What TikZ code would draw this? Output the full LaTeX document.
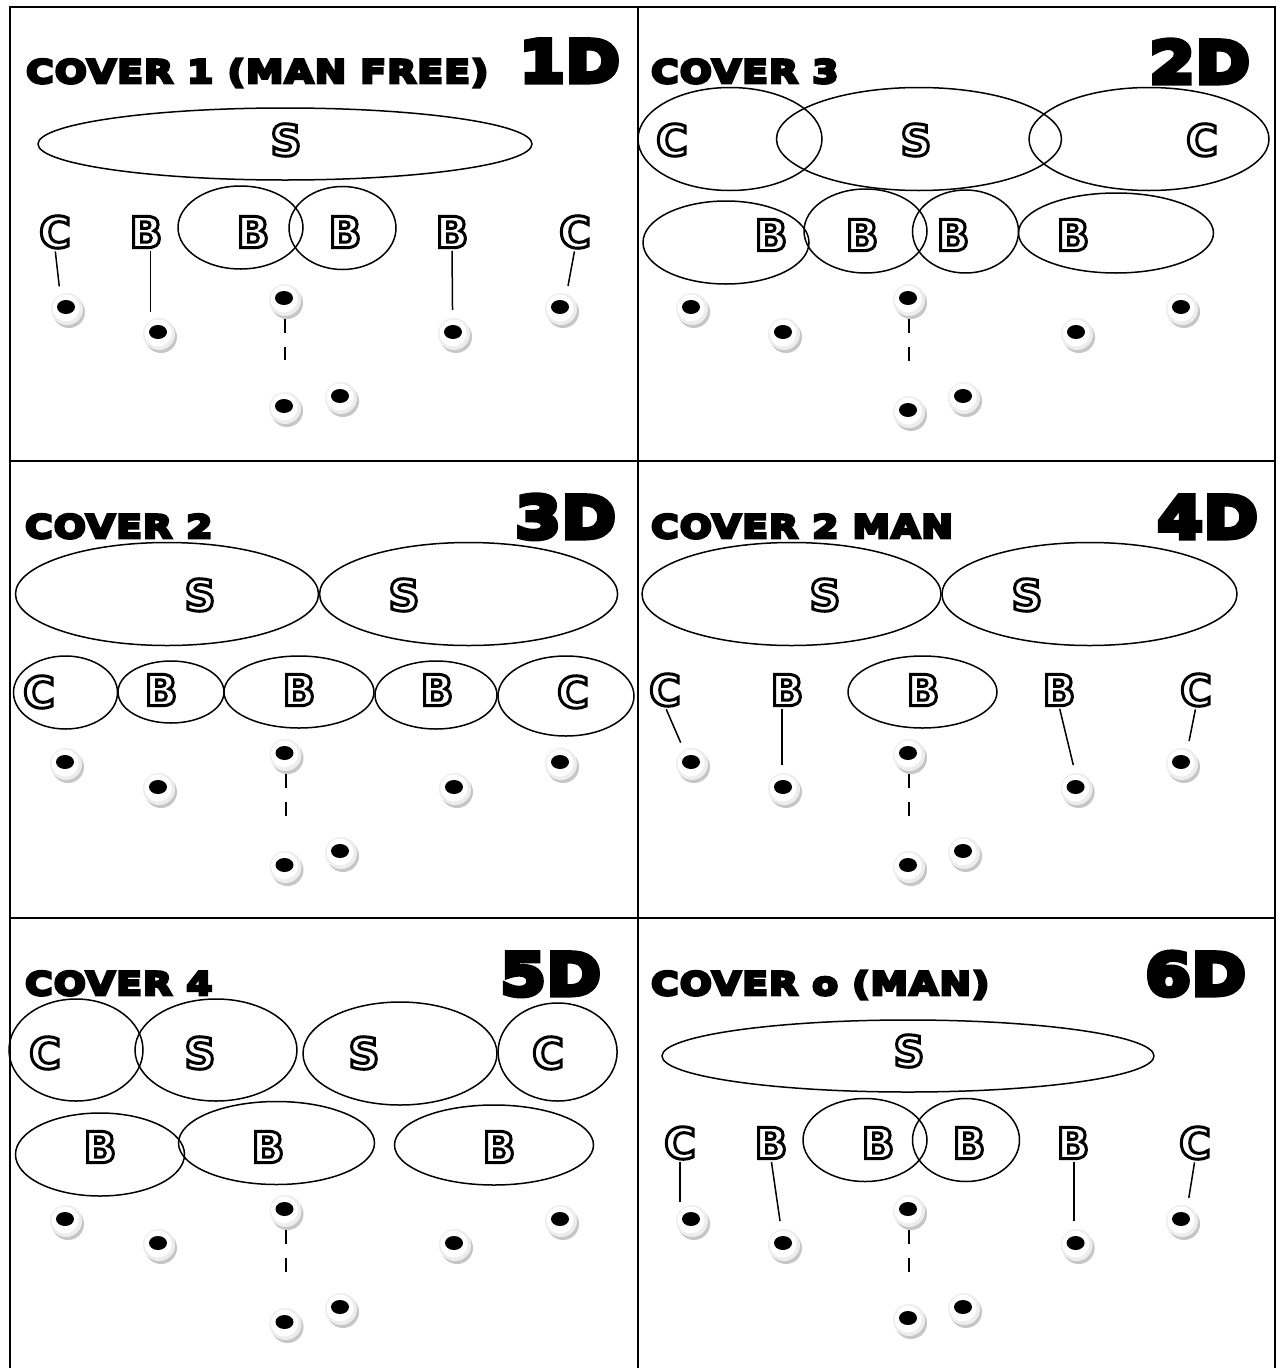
\documentclass[tikz,border=0pt]{standalone}
\usepackage{fontspec}
\usetikzlibrary{shapes.geometric,shadows}
\newfontfamily\titlefont{DejaVu Sans Bold}[FakeStretch=1.17,FakeBold=9,LetterSpace=4]
\newfontfamily\bigfont{DejaVu Sans Bold}[FakeStretch=1.12,FakeBold=9,LetterSpace=2]
\newfontfamily\letterfont{DejaVu Sans Bold}[FakeBold=7]
\newcommand\outl[1]{{\color{white}\special{pdf:literal direct 0 0 0 RG}#1}}
\tikzset{
  frame/.style={line width=2.5pt},
  zone/.style={ellipse, draw, line width=1.5pt, inner sep=0pt},
  lab/.style={inner sep=0pt, font=\letterfont\fontsize{43}{43}\selectfont},
  conn/.style={line width=1.5pt, shorten <=3pt, shorten >=8pt},
  qbline/.style={line width=2pt, dash pattern=on 14pt off 14pt, shorten <=3pt, shorten >=32pt},
  token/.style={circle, minimum size=32pt, inner sep=0pt, fill=gray!14,
    drop shadow={shadow xshift=2pt, shadow yshift=-3pt, fill=gray!45, opacity=1},
    path picture={\fill[white] ([xshift=-1pt,yshift=1pt]path picture bounding box.center) circle [radius=13.5pt];
      \fill[black] ([xshift=-1pt,yshift=2pt]path picture bounding box.center) ellipse [x radius=9pt, y radius=7pt];}},
  title/.style={anchor=base west, inner sep=0pt, font=\titlefont\fontsize{32}{36}\selectfont},
  big/.style={anchor=base east, inner sep=0pt, font=\bigfont\fontsize{58}{60}\selectfont},
}
\begin{document}
\begin{tikzpicture}[x=1pt,y=-1pt]
\useasboundingbox (0,0) rectangle (1283,1368);
\fill[white] (0,0) rectangle (1283,1368);
% grid
\draw[frame] (10,1370) -- (10,7) -- (1275,7) -- (1275,1370);
\draw[frame] (638,7) -- (638,1370);
\draw[frame] (10,461) -- (1275,461);
\draw[frame] (10,918) -- (1275,918);

% ===== Panel 1 =====
\node[title] (h1) at (26,83) {COVER 1 (MAN FREE)};
\node[big] (n1) at (620,82) {1D};
\node[zone, minimum width=494pt, minimum height=72pt] (z1a) at (285,144) {};
\node[zone, minimum width=125pt, minimum height=83pt] (z1b) at (240.5,227.5) {};
\node[zone, minimum width=107pt, minimum height=83pt] (z1c) at (342.5,228) {};
\node[lab] (l1s) at (286,140) {\outl{S}};
\node[lab] (l1a) at (55,232) {\outl{C}};
\node[lab] (l1b) at (146,232) {\outl{B}};
\node[lab] (l1c) at (253,232) {\outl{B}};
\node[lab] (l1d) at (345,232) {\outl{B}};
\node[lab] (l1e) at (452,232) {\outl{B}};
\node[lab] (l1f) at (575,232) {\outl{C}};
\node[token] (t1a) at (67,309) {};
\node[token] (t1b) at (159,334) {};
\node[token] (t1c) at (285,300) {};
\node[token] (t1d) at (454,334) {};
\node[token] (t1e) at (561,309) {};
\node[token] (t1f) at (285,408) {};
\node[token] (t1g) at (341,398) {};
\draw[conn] (l1a.south) -- (t1a.115);
\draw[conn] (l1b.south -| t1b.122) -- (t1b.122);
\draw[conn] (l1e.south) -- (t1d.95);
\draw[conn] (l1f.south) -- (t1e.70);
\draw[qbline] (t1c) -- (t1f);

% ===== Panel 2 =====
\node[title] (h2) at (651,83) {COVER 3};
\node[big] (n2) at (1250,83) {2D};
\node[zone, minimum width=184pt, minimum height=103pt] (z2a) at (730,139) {};
\node[zone, minimum width=285pt, minimum height=103pt] (z2b) at (919,139) {};
\node[zone, minimum width=240pt, minimum height=103pt] (z2c) at (1149,139) {};
\node[zone, minimum width=166pt, minimum height=83pt] (z2d) at (726,242.5) {};
\node[zone, minimum width=123pt, minimum height=84pt] (z2e) at (865.5,231) {};
\node[zone, minimum width=106pt, minimum height=83pt] (z2f) at (965.5,231.5) {};
\node[zone, minimum width=195pt, minimum height=80pt] (z2g) at (1116,233) {};
\node[lab] (l2a) at (672,140) {\outl{C}};
\node[lab] (l2b) at (916,140) {\outl{S}};
\node[lab] (l2c) at (1202,140) {\outl{C}};
\node[lab] (l2d) at (771,235) {\outl{B}};
\node[lab] (l2e) at (862,235) {\outl{B}};
\node[lab] (l2f) at (953,235) {\outl{B}};
\node[lab] (l2g) at (1073,235) {\outl{B}};
\node[token] (t2a) at (692,309) {};
\node[token] (t2b) at (784,334) {};
\node[token] (t2c) at (909,300) {};
\node[token] (t2d) at (1077,334) {};
\node[token] (t2e) at (1182,309) {};
\node[token] (t2f) at (909,412) {};
\node[token] (t2g) at (964,398) {};
\draw[qbline] (t2c) -- (t2f);

% ===== Panel 3 =====
\node[title] (h3) at (25,538) {COVER 2};
\node[big] (n3) at (616,538) {3D};
\node[zone, minimum width=303pt, minimum height=103pt] (z3a) at (167,594) {};
\node[zone, minimum width=298pt, minimum height=103pt] (z3b) at (468.6,594) {};
\node[zone, minimum width=104pt, minimum height=73pt] (z3c) at (65.5,692.5) {};
\node[zone, minimum width=106pt, minimum height=62pt] (z3d) at (171,692) {};
\node[zone, minimum width=150pt, minimum height=72pt] (z3e) at (299,692) {};
\node[zone, minimum width=122pt, minimum height=68pt] (z3f) at (436,695) {};
\node[zone, minimum width=136pt, minimum height=80pt] (z3g) at (566,696) {};
\node[lab] (l3a) at (200,595) {\outl{S}};
\node[lab] (l3b) at (404,595) {\outl{S}};
\node[lab] (l3c) at (39,692) {\outl{C}};
\node[lab] (l3d) at (161,690) {\outl{B}};
\node[lab] (l3e) at (299,690) {\outl{B}};
\node[lab] (l3f) at (437,690) {\outl{B}};
\node[lab] (l3g) at (573,692) {\outl{C}};
\node[token] (t3a) at (66,764) {};
\node[token] (t3b) at (159,789) {};
\node[token] (t3c) at (285.5,755) {};
\node[token] (t3d) at (455,789) {};
\node[token] (t3e) at (561,764) {};
\node[token] (t3f) at (285.5,867) {};
\node[token] (t3g) at (341,853) {};
\draw[qbline] (t3c) -- (t3f);

% ===== Panel 4 =====
\node[title] (h4) at (651,538) {COVER 2 MAN};
\node[big] (n4) at (1258,538) {4D};
\node[zone, minimum width=299pt, minimum height=103pt] (z4a) at (791.5,594) {};
\node[zone, minimum width=295pt, minimum height=103pt] (z4b) at (1089.5,594) {};
\node[zone, minimum width=149pt, minimum height=72pt] (z4c) at (922.5,692) {};
\node[lab] (l4a) at (825,595) {\outl{S}};
\node[lab] (l4b) at (1027,595) {\outl{S}};
\node[lab] (l4c) at (665,690) {\outl{C}};
\node[lab] (l4d) at (787,690) {\outl{B}};
\node[lab] (l4e) at (923,690) {\outl{B}};
\node[lab] (l4f) at (1059,690) {\outl{B}};
\node[lab] (l4g) at (1196,690) {\outl{C}};
\node[token] (t4a) at (692,764) {};
\node[token] (t4b) at (784,789) {};
\node[token] (t4c) at (909,755) {};
\node[token] (t4d) at (1076.6,789) {};
\node[token] (t4e) at (1182,764) {};
\node[token] (t4f) at (909,867) {};
\node[token] (t4g) at (964,853) {};
\draw[conn] (l4c.south) -- (t4a.120);
\draw[conn] (l4d.south -| t4b.98) -- (t4b.98);
\draw[conn] (l4f.south) -- (t4d.95);
\draw[conn] (l4g.south) -- (t4e.70);
\draw[qbline] (t4c) -- (t4f);

% ===== Panel 5 =====
\node[title] (h5) at (25,995) {COVER 4};
\node[big] (n5) at (601,995) {5D};
\node[zone, minimum width=134pt, minimum height=102pt] (z5a) at (76,1050) {};
\node[zone, minimum width=162pt, minimum height=102pt] (z5b) at (216,1050) {};
\node[zone, minimum width=194pt, minimum height=103pt] (z5c) at (400,1053.5) {};
\node[zone, minimum width=119pt, minimum height=98pt] (z5d) at (557.6,1052) {};
\node[zone, minimum width=169pt, minimum height=83pt] (z5e) at (100,1154.5) {};
\node[zone, minimum width=196pt, minimum height=83pt] (z5f) at (276.5,1143) {};
\node[zone, minimum width=199pt, minimum height=80pt] (z5g) at (494,1145) {};
\node[lab] (l5a) at (45,1053) {\outl{C}};
\node[lab] (l5b) at (200,1053) {\outl{S}};
\node[lab] (l5c) at (364,1053) {\outl{S}};
\node[lab] (l5d) at (548,1053) {\outl{C}};
\node[lab] (l5e) at (100,1147) {\outl{B}};
\node[lab] (l5f) at (268,1147) {\outl{B}};
\node[lab] (l5g) at (499,1147) {\outl{B}};
\node[token] (t5a) at (66,1221) {};
\node[token] (t5b) at (159,1245) {};
\node[token] (t5c) at (285.5,1211) {};
\node[token] (t5d) at (455,1245) {};
\node[token] (t5e) at (561,1221) {};
\node[token] (t5f) at (285.5,1324) {};
\node[token] (t5g) at (341,1309) {};
\draw[qbline] (t5c) -- (t5f);

% ===== Panel 6 =====
\node[title] (h6) at (651,995) {COVER o (MAN)};
\node[big] (n6) at (1246,995) {6D};
\node[zone, minimum width=492pt, minimum height=72pt] (z6a) at (908,1056) {};
\node[zone, minimum width=124pt, minimum height=83pt] (z6b) at (865,1140) {};
\node[zone, minimum width=107pt, minimum height=83pt] (z6c) at (966,1140) {};
\node[lab] (l6s) at (909,1051) {\outl{S}};
\node[lab] (l6a) at (680,1143) {\outl{C}};
\node[lab] (l6b) at (771,1143) {\outl{B}};
\node[lab] (l6c) at (878,1143) {\outl{B}};
\node[lab] (l6d) at (969,1143) {\outl{B}};
\node[lab] (l6e) at (1073,1143) {\outl{B}};
\node[lab] (l6f) at (1195,1143) {\outl{C}};
\node[token] (t6a) at (692,1221) {};
\node[token] (t6b) at (784,1245) {};
\node[token] (t6c) at (909,1211) {};
\node[token] (t6d) at (1076.6,1245) {};
\node[token] (t6e) at (1182,1221) {};
\node[token] (t6f) at (909,1320) {};
\node[token] (t6g) at (964,1309) {};
\draw[conn] (l6a.south -| t6a.137) -- (t6a.137);
\draw[conn] (l6b.south) -- (t6b.100);
\draw[conn] (l6e.south -| t6d.100) -- (t6d.100);
\draw[conn] (l6f.south) -- (t6e.70);
\draw[qbline] (t6c) -- (t6f);
\end{tikzpicture}
\end{document}
